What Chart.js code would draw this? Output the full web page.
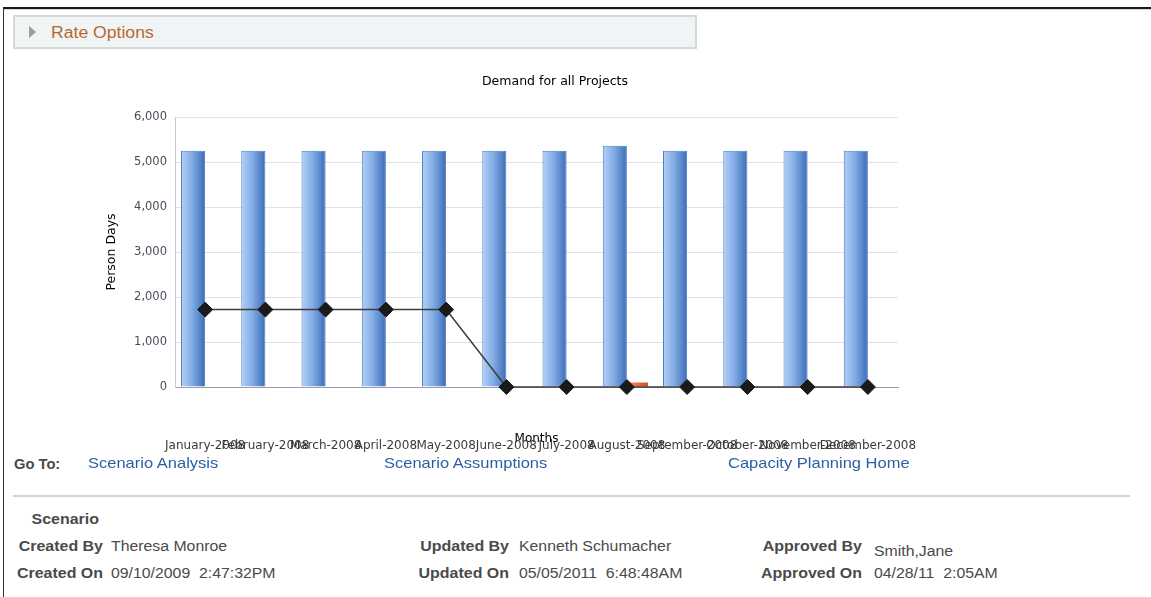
<!DOCTYPE html>
<html>
<head>
<meta charset="utf-8">
<script src="https://cdn.jsdelivr.net/npm/chart.js@4.4.1/dist/chart.umd.min.js"></script>
<style>
  body { margin: 0; background: #fff; font-family: "Liberation Sans", Arial, sans-serif; width: 1151px; height: 597px; overflow: hidden; position: relative; }
  .frame { position: absolute; left: 3px; top: 7px; width: 1150px; height: 600px; border-top: 2px solid #1a1a1a; border-left: 1px solid #333; box-shadow: inset 0 1px 0 #d8d8d8; }
  .rate { position: absolute; left: 13px; top: 15px; width: 680px; height: 30px; background: #f1f4f4; border: 2px solid #d3d9db; }
  .rate .tri { position: absolute; left: 14px; top: 9px; width: 0; height: 0; border-top: 6px solid transparent; border-bottom: 6px solid transparent; border-left: 7px solid #9c9c9c; }
  .rate span { position: absolute; left: 36px; top: 7px; font-size: 16px; color: #b8692f; transform: scaleX(1.1); transform-origin: left; }
  #wrap { position: absolute; left: 100px; top: 60px; width: 910px; height: 400px; }
  .goto { position: absolute; left: 14px; top: 456px; font-size: 14px; font-weight: bold; color: #4a4a4a; transform: scaleX(1.05); transform-origin: left; }
  .lnk { position: absolute; top: 454px; font-size: 15px; color: #2b5ea6; transform: scaleX(1.1); transform-origin: left; white-space: nowrap; }
  .rule { position: absolute; left: 13px; top: 495px; width: 1117px; height: 2px; background: #d4d4d4; }
  .lbl { position: absolute; font-size: 14px; font-weight: bold; color: #4a4a4a; text-align: right; width: 120px; transform: scaleX(1.14); transform-origin: right; white-space: nowrap; }
  .val { position: absolute; font-size: 14px; color: #4a4a4a; white-space: pre; transform: scaleX(1.13); transform-origin: left; }
</style>
</head>
<body>
<div class="frame"></div>
<div class="rate"><div class="tri"></div><span>Rate Options</span></div>
<div id="wrap"><canvas id="myChart" width="910" height="400"></canvas></div>
<div class="goto">Go To:</div>
<div class="lnk" style="left:88px">Scenario Analysis</div>
<div class="lnk" style="left:384px">Scenario Assumptions</div>
<div class="lnk" style="left:728px">Capacity Planning Home</div>
<div class="rule"></div>
<div class="lbl" style="left:-21px;top:511px">Scenario</div>
<div class="lbl" style="left:-17px;top:538px">Created By</div>
<div class="val" style="left:111px;top:538px">Theresa Monroe</div>
<div class="lbl" style="left:-17px;top:565px">Created On</div>
<div class="val" style="left:111px;top:565px">09/10/2009  2:47:32PM</div>
<div class="lbl" style="left:389px;top:538px">Updated By</div>
<div class="val" style="left:519px;top:538px">Kenneth Schumacher</div>
<div class="lbl" style="left:389px;top:565px">Updated On</div>
<div class="val" style="left:519px;top:565px">05/05/2011  6:48:48AM</div>
<div class="lbl" style="left:742px;top:538px">Approved By</div>
<div class="val" style="left:874px;top:543px">Smith,Jane</div>
<div class="lbl" style="left:742px;top:565px">Approved On</div>
<div class="val" style="left:874px;top:565px">04/28/11  2:05AM</div>

<script>
// chart data
const months = ['January-2008', 'February-2008', 'March-2008', 'April-2008', 'May-2008', 'June-2008',
    'July-2008', 'August-2008', 'September-2008', 'October-2008', 'November-2008', 'December-2008'];
const demand = [5250, 5250, 5250, 5250, 5250, 5250, 5250, 5360, 5250, 5250, 5250, 5250];
const other = [0, 0, 0, 0, 0, 0, 0, 100, 0, 0, 0, 0];
const capacity = [1720, 1720, 1720, 1720, 1720, 0, 0, 0, 0, 0, 0, 0];
const yTicks = [0, 1000, 2000, 3000, 4000, 5000, 6000];

const catPct = 0.8;

// horizontal gradient across one bar of the group
function barFill(context, stops, slot, fallback) {
    const chart = context.chart;
    const x = chart.scales && chart.scales.x;
    if (!chart.chartArea || !x) return fallback;
    const cw = x.width / months.length;
    const bw = cw * catPct / 2;
    const left = x.getPixelForValue(context.dataIndex) - cw * catPct / 2 + slot * bw;
    const g = chart.ctx.createLinearGradient(left, 0, left + bw, 0);
    stops.forEach(s => g.addColorStop(s[0], s[1]));
    return g;
}

let ctx = document.getElementById('myChart').getContext('2d');

let myChart = new Chart(ctx, {
    type: 'bar',
    data: {
        labels: months,
        datasets: [{
            type: 'line',
            label: 'Capacity',
            data: capacity,
            order: 0,
            borderColor: '#3c3c3c',
            borderWidth: 1.5,
            pointStyle: 'rectRot',
            pointRadius: 7.5,
            pointBackgroundColor: '#1a1a1a',
            pointBorderColor: '#1a1a1a',
            pointBorderWidth: 1,
            tension: 0,
            clip: false
        }, {
            label: 'Demand',
            data: demand,
            order: 1,
            backgroundColor: c => barFill(c, [[0, '#b3d0f6'], [0.45, '#83ade6'], [1, '#3b6cb6']], 0, '#6f9ad8'),
            borderColor: '#4e7cc4',
            borderWidth: 1,
            categoryPercentage: catPct,
            barPercentage: 1
        }, {
            label: 'Other',
            data: other,
            order: 1,
            backgroundColor: c => barFill(c, [[0, '#f59a6a'], [0.5, '#e8662e'], [1, '#c94d1c']], 1, '#e8662e'),
            borderColor: '#d85a24',
            borderWidth: 0,
            categoryPercentage: catPct,
            barPercentage: 0.75
        }]
    },
    options: {
        responsive: false,
        animation: false,
        layout: { padding: { left: 0, right: 0, top: 0, bottom: 3 } },
        plugins: {
            legend: { display: false },
            tooltip: { enabled: false },
            title: {
                display: true,
                text: 'Demand for all Projects',
                color: '#000',
                font: { family: 'DejaVu Sans', size: 12.5, weight: 'normal' },
                padding: { top: 14, bottom: 28 }
            }
        },
        scales: {
            x: {
                offset: true,
                grid: { display: false, drawTicks: false },
                border: { display: true, color: '#9a9aae', width: 1 },
                ticks: {
                    autoSkip: false, maxRotation: 0, minRotation: 0,
                    color: '#3a3a3a', padding: 52,
                    font: { family: 'DejaVu Sans', size: 12 }
                },
                title: {
                    display: true, text: 'Months', color: '#000',
                    font: { family: 'DejaVu Sans', size: 12 },
                    padding: { top: 0, bottom: 11 }
                },
                afterFit: s => { s.height = 70; }
            },
            y: {
                min: 0, max: 6000,
                afterBuildTicks: s => { s.ticks = yTicks.map(v => ({ value: v })); },
                grid: { color: '#dfe0ee', lineWidth: 1, drawTicks: false },
                border: { display: true, color: '#c6c8dc', width: 1 },
                ticks: {
                    color: '#4c4c5c', padding: 8,
                    font: { family: 'DejaVu Sans', size: 11.5 },
                    callback: v => v.toLocaleString('en-US')
                },
                title: {
                    display: true, text: 'Person Days', color: '#000',
                    font: { family: 'DejaVu Sans', size: 12.5 },
                    padding: { top: 4, bottom: 0 }
                },
                afterFit: s => { s.width = 75; }
            },
            // empty right axis keeps the plot narrower than the title box
            spacer: {
                type: 'linear',
                position: 'right',
                display: true,
                grid: { display: false, drawTicks: false },
                border: { display: false },
                ticks: { display: false },
                afterFit: s => { s.width = 112; }
            }
        }
    }
});
</script>
</body>
</html>
